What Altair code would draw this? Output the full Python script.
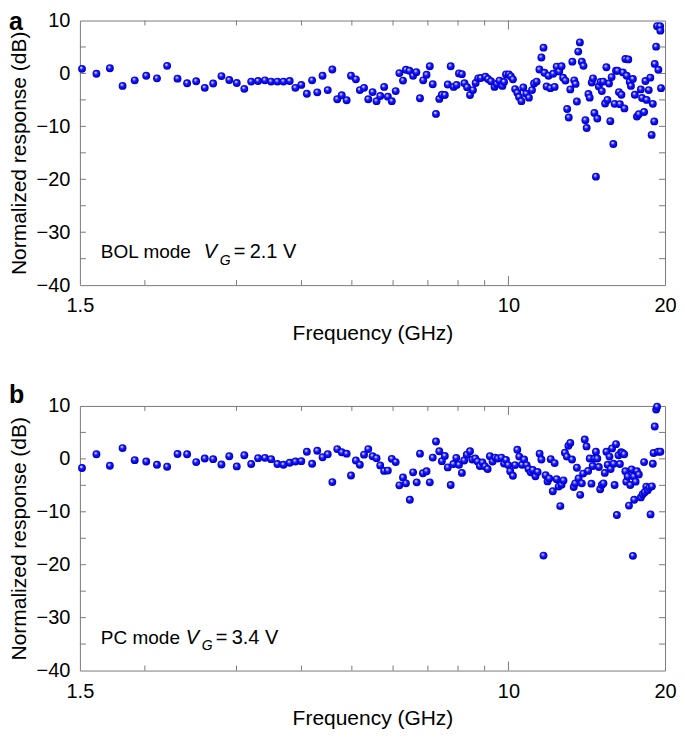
import altair as alt
import pandas as pd

# ---------------- data ----------------
freq_a = [
    1.514, 1.614, 1.713, 1.812, 1.912, 2.012, 2.110, 2.207, 2.311, 2.411,
    2.510, 2.607, 2.706, 2.807, 2.906, 3.004, 3.106, 3.202, 3.301, 3.403,
    3.497, 3.596, 3.694, 3.797, 3.894, 3.997, 4.097, 4.193, 4.290, 4.392,
    4.494, 4.586, 4.687, 4.781, 4.886, 4.981, 5.090, 5.180, 5.277, 5.377,
    5.481, 5.577, 5.669, 5.768,
    5.864, 5.967, 6.071, 6.170, 6.270, 6.352, 6.452, 6.557, 6.652, 6.760,
    6.857, 6.960, 7.060, 7.153, 7.256, 7.364, 7.448, 7.546, 7.645, 7.745,
    7.847, 7.950, 8.033, 8.138, 8.231, 8.327, 8.436, 8.547, 8.648, 8.746,
    8.849, 9.032, 9.134, 9.254, 9.404, 9.498, 9.610, 9.737, 9.808, 9.893,
    10.02, 10.11, 10.20, 10.30, 10.40, 10.48, 10.59, 10.68, 10.82, 10.95,
    11.10, 11.20, 11.33, 11.47, 11.57, 11.68, 11.73, 11.84, 11.94, 12.04,
    12.19, 12.27, 12.38, 12.52, 12.65, 12.74, 12.87, 12.97, 13.06, 13.15,
    13.27, 13.38, 13.46, 13.54, 13.62, 13.72, 13.84, 13.94, 14.06, 14.14,
    14.25, 14.33, 14.46, 14.54, 14.63, 14.73, 14.82, 14.92, 15.03, 15.12,
    15.21, 15.34, 15.43, 15.50, 15.61, 15.70, 15.79, 15.91, 16.00, 16.10,
    16.21, 16.31, 16.38, 16.49, 16.60, 16.71, 16.78, 16.88, 17.00, 17.11,
    17.20, 17.35, 17.50, 17.66, 17.81, 17.97, 18.07, 18.23, 18.34, 18.44,
    18.61, 18.74, 18.85, 18.95, 19.07, 19.11, 19.23, 19.31, 19.42, 19.57,
    19.59, 19.65,
]
db_a = [
    0.87, -0.06, 0.98, -2.35, -1.30, -0.43, -0.93, 1.43, -0.98, -1.85,
    -1.48, -2.72, -1.91, -0.50, -1.24, -1.80, -2.91, -1.54, -1.43, -1.30,
    -1.54, -1.54, -1.54, -1.43, -2.72, -2.17, -3.83, -1.30, -3.57, -0.43,
    -3.15, 0.74, -4.87, -4.13, -5.06, -0.43, -1.11, -3.15, -2.72, -4.87,
    -3.52, -5.24, -4.26, -2.54,
    -4.39, -5.24, -3.33, 0.06, -1.35, 0.69, 0.50, -0.43, 0.24, -4.69,
    -1.30, -0.24, 1.35, -2.04, -7.65, -4.81, -4.02, -4.07, -2.09, 1.35,
    -2.54, -2.17, 0.00, -0.13, -1.85, -2.59, -4.07, -3.15, -1.80, -0.93,
    -0.87, -0.61, -1.06, -1.48, -2.54, -1.98, -1.35, -2.35, -1.61, -0.19,
    -0.19, -0.56, -1.11, -2.96, -3.65, -4.44, -5.24, -2.65, -3.83, -4.57,
    -3.15, -1.91, -1.54, 0.74, 3.02, 4.87, 0.13, -2.46, -0.43, -2.78,
    -0.06, -2.54, 1.30, 0.37, 1.35, -0.80, -1.35, -6.72, -8.33, -3.02,
    2.22, -1.30, -1.98, -5.31, 4.13, 5.87, 2.22, 1.43, -8.83, -10.31,
    -3.89, -4.57, -1.72, -0.93, -7.46, -19.50, -8.52, -2.46, -1.61, -3.33,
    -1.54, -5.69, 1.17, -5.00, -1.91, -9.02, -0.69, -13.33, -5.74, 0.50,
    0.50, -3.52, -5.80, -4.02, 0.19, -6.61, 2.72, -0.43, 2.65, -1.61,
    -2.35, -1.06, -4.02, -8.15, -7.72, -3.02, -4.63, -7.28, -1.43, -5.00,
    -3.15, -0.80, -11.61, -5.74, -9.07, 1.80, 5.06, 8.94, 0.69, 8.94,
    8.09, -2.78,
]

freq_b = [
    1.514, 1.614, 1.713, 1.812, 1.912, 2.012, 2.110, 2.207, 2.311, 2.411,
    2.510, 2.607, 2.706, 2.807, 2.906, 3.004, 3.106, 3.202, 3.301, 3.403,
    3.497, 3.596, 3.694, 3.797, 3.894, 3.997, 4.097, 4.193, 4.290, 4.392,
    4.494, 4.586, 4.687, 4.781, 4.886, 4.981, 5.090, 5.180, 5.277, 5.377,
    5.481, 5.577, 5.669, 5.768,
    5.864, 5.967, 6.071, 6.170, 6.270, 6.352, 6.463, 6.557, 6.663, 6.760,
    6.848, 6.960, 7.060, 7.153, 7.256, 7.364, 7.448, 7.546, 7.645, 7.745,
    7.837, 7.939, 8.033, 8.138, 8.220, 8.316, 8.436, 8.521, 8.633, 8.723,
    8.811, 8.914, 9.015, 9.120, 9.212, 9.321, 9.432, 9.539, 9.694, 9.808,
    9.893, 9.992, 10.08, 10.20, 10.30, 10.40, 10.49, 10.62, 10.72, 10.84,
    10.93, 11.04, 11.14, 11.27, 11.38, 11.48, 11.57, 11.68, 11.79, 11.89,
    11.98, 12.06, 12.17, 12.27, 12.38, 12.49, 12.58, 12.65, 12.76, 12.84,
    12.95, 13.04, 13.15, 13.25, 13.35, 13.44, 13.54, 13.64, 13.74, 13.84,
    13.92, 14.02, 14.13, 14.23, 14.33, 14.44, 14.52, 14.65, 14.73, 14.82,
    14.92, 15.01, 15.12, 15.23, 15.32, 15.43, 15.52, 15.64, 15.72, 15.82,
    15.93, 16.00, 16.10, 16.16, 16.28, 16.38, 16.47, 16.56, 16.69, 16.78,
    16.85, 16.95, 17.05, 17.15, 17.25, 17.35, 17.41, 17.45, 17.56, 17.66,
    17.81, 17.97, 18.12, 18.23, 18.28, 18.41, 18.52, 18.66, 18.76, 18.87,
    18.95, 19.01, 19.11, 19.23, 19.31, 19.40, 19.59,
]
db_b = [
    -1.72, 0.87, -1.30, 2.04, -0.24, -0.50, -1.11, -1.48, 0.93, 0.87,
    -0.61, 0.06, -0.06, -1.06, 0.50, -1.43, 0.69, -0.98, 0.13, 0.19,
    -0.06, -0.98, -1.11, -0.74, -0.50, -0.43, 1.35, -0.93, 1.54, 0.31,
    0.87, -4.39, 1.85, 1.24, 0.98, -3.15, -0.31, -1.11, 0.80, 1.85,
    0.50, 0.13, -1.24, -2.28,
    -2.22, 0.00, -0.61, -5.00, -3.52, -4.63, -7.72, -2.54, -4.44, 0.98,
    -2.72, -2.35, -4.44, 0.24, 3.28, 1.43, -0.43, 0.56, -1.61, -4.94,
    -0.98, 0.19, -1.11, -2.65, -0.31, 0.80, 1.43, -0.13, 0.06, -0.50,
    -1.35, -0.69, -1.43, -1.91, 0.50, -0.50, 0.24, 0.06, 0.24, -0.87,
    -0.19, -1.17, -2.35, -3.20, -1.17, 1.72, 0.43, -1.11, -0.13, -1.17,
    -1.91, -2.54, -2.09, -3.28, -2.46, 0.98, -0.13, -18.28, -3.09, -4.26,
    -3.70, -0.06, -6.11, -0.80, -3.83, -5.24, -8.94, -4.87, -4.07, 1.17,
    0.43, 2.46, 3.02, -0.13, -5.31, -4.63, -1.67, -3.70, -6.80, -4.63,
    -2.78, 3.65, 2.35, -2.28, 0.06, -4.69, -1.35, 0.06, 1.35, 0.06,
    -1.54, -5.74, -4.94, -4.63, -2.65, 1.35, -1.11, 0.43, -1.91, 1.98,
    -0.93, -4.94, 2.78, -10.61, 0.69, -0.98, 1.24, 1.11, 0.87, -2.35,
    -4.31, -3.33, -8.83, -4.94, -1.98, -18.33, -3.33, -7.72, -4.31, -2.35,
    -2.96, -7.28, -6.67, -0.61, -6.30, -5.24, -5.93, -5.43, -10.50, -5.19,
    -0.93, 1.11, 6.11, 9.31, 9.87, 1.35, 1.35,
]

x_domain = [1.5, 20]
y_domain = [-40, 10]
x_labels = [1.5, 10, 20]
x_minor_ticks = [2, 3, 4, 5, 6, 7, 8, 9]
x_major_ticks = [10]
y_labels = [-40, -30, -20, -10, 0, 10]
y_ticks = [-35, -30, -25, -20, -15, -10, -5, 0, 5]

FONT = "Liberation Sans"
FRAME = "#7a7a7a"
W, H = 586, 265

sphere = alt.RadialGradient(
    gradient="radial",
    x1=0.38, y1=0.32, r1=0.0,
    x2=0.5, y2=0.5, r2=0.55,
    stops=[
        alt.GradientStop(offset=0.0, color="#ffffff"),
        alt.GradientStop(offset=0.15, color="#c4c4ff"),
        alt.GradientStop(offset=0.4, color="#1c1cff"),
        alt.GradientStop(offset=0.8, color="#0000e0"),
        alt.GradientStop(offset=1.0, color="#000088"),
    ],
)

xscale = alt.Scale(type="log", domain=x_domain, nice=False)
yscale = alt.Scale(domain=y_domain, nice=False)

x_axis = alt.Axis(
    values=x_labels, ticks=False, tickSize=0, domain=False, grid=False,
    labelFontSize=20, labelPadding=10.5, labelFlush=False, labelOverlap=False,
    format="~g", title="Frequency (GHz)", titleFontSize=21,
    titleFontWeight="normal", titleY=37, titleBaseline="top")
y_axis = alt.Axis(
    values=y_labels, ticks=False, tickSize=0, domain=False, grid=False,
    labelFontSize=20, labelPadding=10, format="d",
    title="Normalized response (dB)", titleFontSize=21,
    titleFontWeight="normal", titleAngle=270, titleX=-60, titleY=H / 2,
    titleBaseline="middle", titleAlign="center")


def text_layer(txt, x, y, size=19, style="normal", weight="normal", baseline="alphabetic"):
    return alt.Chart(alt.Data(values=[{"k": 1}])).mark_text(
        text=txt, font=FONT, fontSize=size, fontStyle=style, fontWeight=weight,
        align="left", baseline=baseline, color="black",
    ).encode(x=alt.value(x), y=alt.value(y))


def panel(freq, db, letter, mode, volt, v_x, letter_y, letter_base):
    df = pd.DataFrame({"f": freq, "db": db})
    pts = alt.Chart(df).mark_point(
        shape="circle", filled=True, fill=sphere, size=62, opacity=1, strokeWidth=0
    ).encode(
        x=alt.X("f:Q", scale=xscale, axis=x_axis),
        y=alt.Y("db:Q", scale=yscale, axis=y_axis),
    )

    xm = pd.DataFrame({"f": x_minor_ticks})
    xM = pd.DataFrame({"f": x_major_ticks})
    yt = pd.DataFrame({"db": y_ticks})
    rule = dict(color=FRAME, strokeWidth=1)
    xenc = alt.X("f:Q", scale=xscale, axis=x_axis)
    yenc = alt.Y("db:Q", scale=yscale, axis=y_axis)
    ticks = [
        alt.Chart(xm).mark_rule(**rule).encode(x=xenc, y=alt.value(0), y2=alt.value(5)),
        alt.Chart(xm).mark_rule(**rule).encode(x=xenc, y=alt.value(H - 5), y2=alt.value(H)),
        alt.Chart(xM).mark_rule(**rule).encode(x=xenc, y=alt.value(0), y2=alt.value(9)),
        alt.Chart(xM).mark_rule(**rule).encode(x=xenc, y=alt.value(H - 9), y2=alt.value(H)),
        alt.Chart(yt).mark_rule(**rule).encode(y=yenc, x=alt.value(0), x2=alt.value(6)),
        alt.Chart(yt).mark_rule(**rule).encode(y=yenc, x=alt.value(W - 6), x2=alt.value(W)),
    ]

    base = H - 27
    texts = [
        text_layer(letter, -71, letter_y, size=25, weight="bold", baseline=letter_base),
        text_layer(mode, 21, base, size=19),
        text_layer("V", v_x, base, size=20, style="italic"),
        text_layer("G", v_x + 16, base + 6.5, size=14, style="italic"),
        text_layer("=", v_x + 30, base, size=20),
        text_layer(volt, v_x + 46, base, size=20),
    ]

    return alt.layer(pts, *ticks, *texts).properties(width=W, height=H)


top = panel(freq_a, db_a, "a", "BOL mode", "2.1 V", 124, -11, "top")
bottom = panel(freq_b, db_b, "b", "PC mode", "3.4 V", 106, -3, "alphabetic")

chart = alt.vconcat(top, bottom, spacing=38).properties(
    padding=0
).configure(font=FONT, padding=0).configure_axis(
    labelFont=FONT, titleFont=FONT, labelColor="black", titleColor="black"
).configure_view(stroke=FRAME, strokeWidth=1)

chart.save("out.html", embed_options={"renderer": "svg", "actions": False})
